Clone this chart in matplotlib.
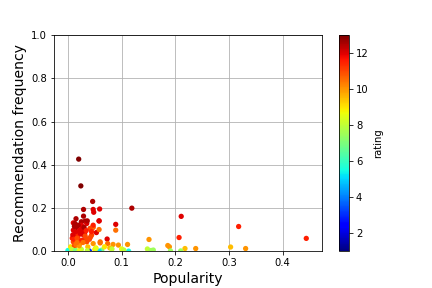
import matplotlib.pyplot as plt

# popularity, recommendation frequency, rating
popularity = [
    0.020, 0.024, 0.046, 0.029, 0.047, 0.059, 0.048, 0.058, 0.015, 0.032,
    0.025, 0.010, 0.047, 0.073, 0.119, 0.089, 0.089, 0.058, 0.046, 0.053,
    0.074, 0.084, 0.094, 0.111, 0.060, 0.211, 0.318, 0.444, 0.207, 0.151,
    0.186, 0.189, 0.218, 0.238, 0.303, 0.331, 0.148, 0.159, 0.191, 0.210,
    0.016, 0.029, 0.013, 0.025, 0.035, 0.047, 0.010, 0.022, 0.041, 0.058,
    0.016, 0.029, 0.044, 0.010, 0.022, 0.035, 0.047, 0.060, 0.013, 0.025,
    0.038, 0.050, 0.063, 0.040, 0.000, 0.058, 0.113, 0.005, 0.008, 0.018,
    0.020, 0.033, 0.037, 0.052, 0.068, 0.078, 0.082, 0.100, 0.104, 0.155,
    0.012, 0.018, 0.027, 0.031, 0.040, 0.007, 0.014, 0.021, 0.036, 0.052,
    0.009, 0.014, 0.019, 0.024, 0.030, 0.034, 0.011, 0.017, 0.026, 0.032,
    0.015, 0.021, 0.028, 0.042, 0.012, 0.019, 0.023, 0.036, 0.044, 0.017,
]
rec_freq = [
    0.426, 0.302, 0.230, 0.193, 0.193, 0.195, 0.180, 0.140, 0.150, 0.139,
    0.136, 0.131, 0.110, 0.056, 0.199, 0.124, 0.097, 0.140, 0.112, 0.086,
    0.035, 0.031, 0.028, 0.031, 0.038, 0.161, 0.114, 0.059, 0.063, 0.054,
    0.026, 0.020, 0.012, 0.012, 0.019, 0.012, 0.010, 0.005, 0.001, 0.001,
    0.110, 0.162, 0.128, 0.120, 0.128, 0.120, 0.097, 0.097, 0.105, 0.100,
    0.066, 0.074, 0.074, 0.043, 0.035, 0.043, 0.035, 0.043, 0.012, 0.008,
    0.005, 0.008, 0.005, 0.000, 0.003, 0.000, 0.000, 0.020, 0.060, 0.085,
    0.050, 0.060, 0.020, 0.015, 0.020, 0.015, 0.010, 0.010, 0.005, 0.003,
    0.025, 0.045, 0.090, 0.080, 0.055, 0.008, 0.003, 0.002, 0.002, 0.012,
    0.075, 0.088, 0.070, 0.100, 0.110, 0.095, 0.055, 0.060, 0.050, 0.070,
    0.030, 0.025, 0.040, 0.065, 0.115, 0.120, 0.082, 0.140, 0.090, 0.040,
]
rating = [
    13, 13, 12.5, 12.5, 12, 12, 12, 12, 12.5, 12.5,
    12.5, 12, 11, 12, 12.5, 12, 10.5, 12, 10.5, 12,
    10.5, 10, 10, 10, 10.5, 12, 11.5, 11.5, 11.5, 10,
    10, 10, 9.5, 10, 9.5, 10, 8, 7.5, 7.5, 7.5,
    12.5, 12.5, 12.5, 12, 12, 11.5, 12, 12, 11, 10.5,
    12, 12, 11, 11, 10, 11, 10, 10.5, 9, 8,
    7, 9, 7, 3, 5.5, 5, 5.5, 9, 11.5, 12,
    11.5, 11, 9.5, 9, 9, 9.5, 8, 8.5, 8, 7.5,
    11, 11.5, 12, 12, 11, 8, 7, 8.5, 8, 8.5,
    12, 12, 11.5, 12, 12.5, 11.5, 11.5, 11, 11.5, 11,
    10.5, 10, 10.5, 11, 12.5, 12.5, 12, 12.5, 11.5, 10.5,
]

fig = plt.figure(figsize=(6, 4), dpi=72)
ax = fig.add_axes([0.125, 0.128, 0.62, 0.75])
cax = fig.add_axes([0.785, 0.128, 0.023, 0.75])

sc = ax.scatter(popularity, rec_freq, c=rating, cmap='jet', vmin=1, vmax=13,
                s=28, linewidths=0, zorder=3)
ax.set_xlim(-0.026, 0.473)
ax.set_ylim(0, 1.0)
ax.grid(True, color='#b0b0b0', zorder=0)
ax.set_axisbelow(True)
ax.set_xlabel('Popularity', fontsize=14)
ax.set_ylabel('Recommendation frequency', fontsize=14)

cb = fig.colorbar(sc, cax=cax)
cb.set_label('rating')
cb.set_ticks([2, 4, 6, 8, 10, 12])

fig.savefig('out.png', dpi=72)
